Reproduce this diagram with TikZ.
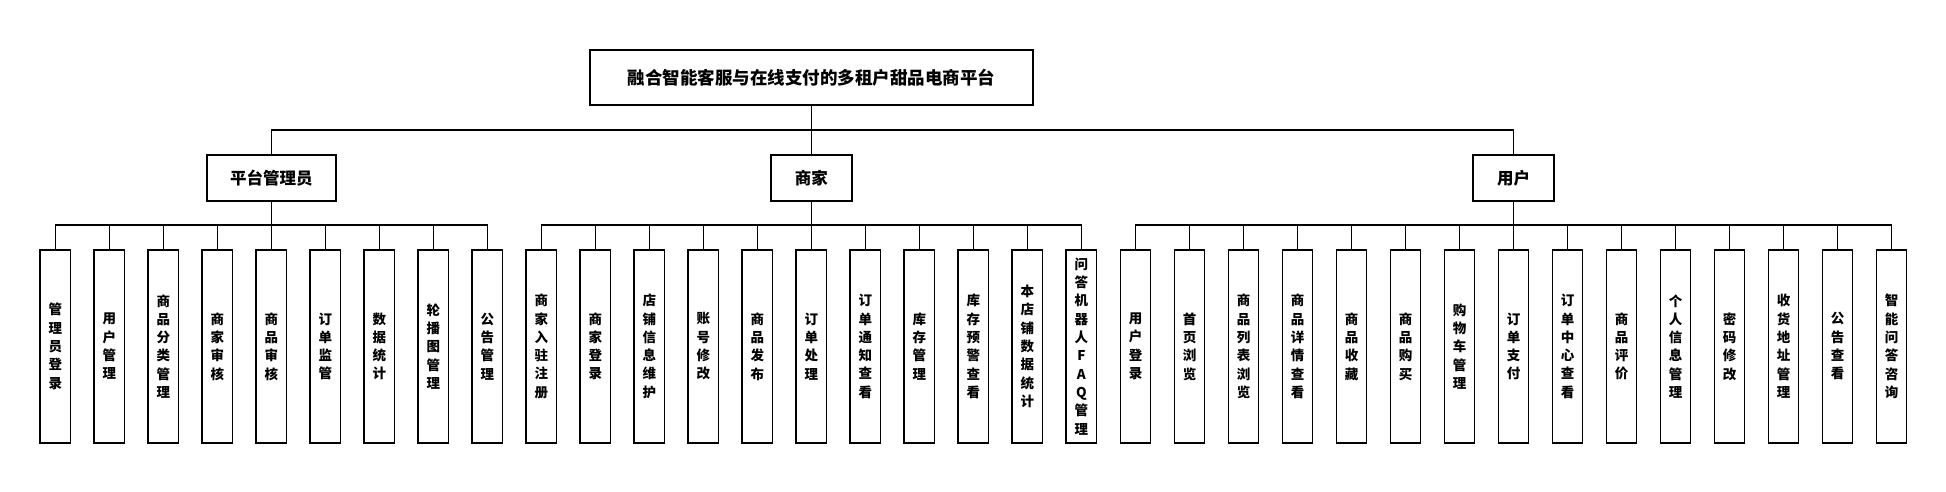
\documentclass[tikz,border=0pt]{standalone}
\usepackage{fontspec}
\usepackage{tikz}
\usetikzlibrary{positioning,calc}
\newfontfamily\cjk{Noto Sans CJK SC}

\begin{document}
\begin{tikzpicture}[
  x=1pt, y=-1pt,
  box/.style={draw=black, line width=1.4pt, fill=white, inner sep=0pt, align=center},
  root/.style={box, minimum width=443pt, minimum height=55pt, font={\cjk\bfseries\fontsize{17.5}{20}\selectfont}},
  role/.style={box, minimum height=46pt, font={\cjk\bfseries\fontsize{16.5}{19}\selectfont}},
  leaf/.style={box, minimum width=30.5pt, minimum height=193pt, font={\cjk\bfseries\fontsize{13.5}{18.3}\selectfont}},
  link/.style={draw=black, line width=1.4pt}
]
\useasboundingbox (0,0) rectangle (1946,492);
% top levels
\node[root] (root) at (811.4,77.7) {融合智能客服与在线支付的多租户甜品电商平台};
\node[role, minimum width=129pt] (admin) at (271.3,178) {平台管理员};
\node[role, minimum width=81pt] (shop) at (811.4,178) {商家};
\node[role, minimum width=81pt] (user) at (1513.5,178) {用户};
\coordinate (top) at (811.4,130);
\draw[link] (root) -- (shop);
\draw[link] (admin.north) |- (top) -| (user.north);
% buses
\coordinate (adminbus) at (271.3,225);
\coordinate (shopbus) at (811.4,225);
\coordinate (userbus) at (1513.5,225);
\draw[link] (admin.south) -- (adminbus);
\draw[link] (shop.south) -- (shopbus);
\draw[link] (user.south) -- (userbus);
% admin modules
\foreach \t [count=\i from 0] in {{管\\理\\员\\登\\录}, {用\\户\\管\\理}, {商\\品\\分\\类\\管\\理}, {商\\家\\审\\核}, {商\\品\\审\\核}, {订\\单\\监\\管}, {数\\据\\统\\计}, {轮\\播\\图\\管\\理}, {公\\告\\管\\理}} {
  \node[leaf] (a\i) at (55.3+54*\i,346.4) {\t};
  \draw[link] (adminbus) -| (a\i.north);
}
% merchant modules
\foreach \t [count=\i from 0] in {{商\\家\\入\\驻\\注\\册}, {商\\家\\登\\录}, {店\\铺\\信\\息\\维\\护}, {账\\号\\修\\改}, {商\\品\\发\\布}, {订\\单\\处\\理}, {订\\单\\通\\知\\查\\看}, {库\\存\\管\\理}, {库\\存\\预\\警\\查\\看}, {本\\店\\铺\\数\\据\\统\\计}, {问\\答\\机\\器\\人\\F\\A\\Q\\管\\理}} {
  \node[leaf] (m\i) at (541.4+54*\i,346.4) {\t};
  \draw[link] (shopbus) -| (m\i.north);
}
% user modules
\foreach \t [count=\i from 0] in {{用\\户\\登\\录}, {首\\页\\浏\\览}, {商\\品\\列\\表\\浏\\览}, {商\\品\\详\\情\\查\\看}, {商\\品\\收\\藏}, {商\\品\\购\\买}, {购\\物\\车\\管\\理}, {订\\单\\支\\付}, {订\\单\\中\\心\\查\\看}, {商\\品\\评\\价}, {个\\人\\信\\息\\管\\理}, {密\\码\\修\\改}, {收\\货\\地\\址\\管\\理}, {公\\告\\查\\看}, {智\\能\\问\\答\\咨\\询}} {
  \node[leaf] (u\i) at (1135.5+54*\i,346.4) {\t};
  \draw[link] (userbus) -| (u\i.north);
}
\end{tikzpicture}
\end{document}
